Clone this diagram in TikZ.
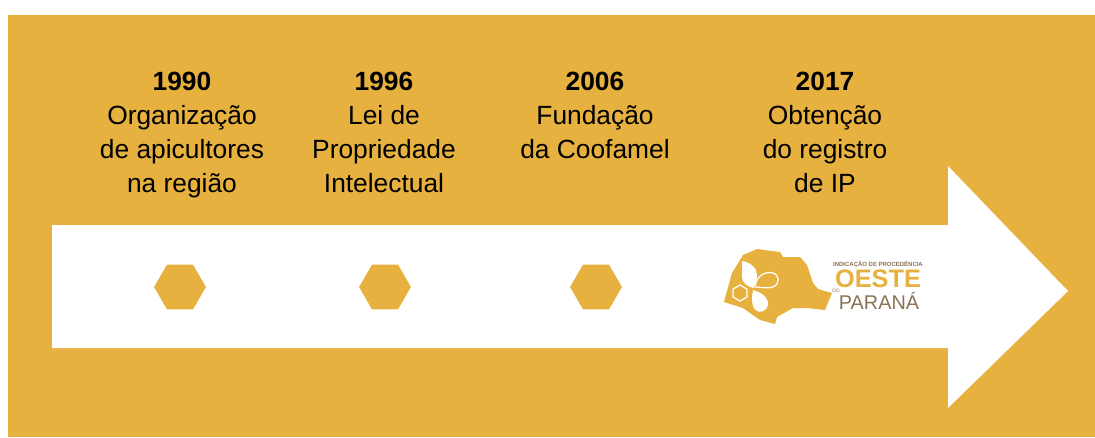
\documentclass[tikz,border=0pt]{standalone}
\usepackage{fontspec}
\setmainfont{Liberation Sans}
\usetikzlibrary{shapes.geometric}
\definecolor{mel}{HTML}{E6B13F}
\definecolor{brown-logo}{HTML}{8A7253}
\tikzset{
	marco/.style={font=\fontsize{15}{19.3}\selectfont,align=center,anchor=north,text=black,inner sep=0pt},
	favo/.style={regular polygon,regular polygon sides=6,fill=mel,minimum size=29.5pt,inner sep=0pt,yscale=1,xscale=1},
	logotxt/.style={inner sep=0pt,text=#1},
	logotxt/.default=mel
}

\begin{document}
\begin{tikzpicture}[x=.02cm,y=-.02cm]
	\useasboundingbox (0,0) rectangle (1095,437);
	\fill [white] (0,0) rectangle (1095,437);
	\fill [mel] (8,15) rectangle (1095,437);
	\fill [white] (52,225) -- (948,225) -- (948,166) -- (1068,291) -- (948,408) -- (948,348) -- (52,348) -- cycle;

	% marcos
	\foreach \x/\ano/\txt in {182/1990/{Organização\\de apicultores\\na região},384/1996/{Lei de\\Propriedade\\Intelectual},595/2006/{Fundação\\da Coofamel},825/2017/{Obtenção\\do registro\\de IP}}
		{\node [marco] (m\ano) at (\x,72) {\textbf{\ano}\\\txt};}

	\foreach \x/\ano in {180/1990,385/1996,596/2006}
		{\node [favo] (f\ano) at (\x,287) {};}

	% logo
	\fill [mel] (724,302) -- (732,273) -- (743,255) -- (757,249) -- (780,252) -- (783,257) -- (800,257) -- (807,265) -- (813,283) -- (818,289) -- (832,293) -- (825,310) -- (807,308) -- (793,308) -- (777,317) -- (775,324) -- (760,320) -- (743,308) -- (727,303) -- cycle;
	\fill [white] (742,261) .. controls (750,262) and (757,268) .. (757,275) .. controls (757,280) and (755,285) .. (753,288) .. controls (747,286) and (742,283) .. (742,277) -- cycle;
	\draw [white,line width=.7pt] (755,287) .. controls (756,276) and (765,271) .. (773,273) .. controls (780,275) and (780,284) .. (773,287) .. controls (767,289) and (761,287) .. (755,287) -- cycle;
	\fill [white] (753,290) .. controls (760,292) and (769,297) .. (768,305) .. controls (767,311) and (760,313) .. (757,311) .. controls (752,309) and (751,300) .. (753,290) -- cycle;
	\draw [white,line width=.7pt] (740,285) -- (747,289) -- (747,297) -- (740,301) -- (733,297) -- (733,289) -- cycle;
	\node [logotxt=brown-logo,font=\bfseries\fontsize{3.4}{4}\selectfont] (indicacao) at (878,264) {INDICAÇÃO DE PROCEDÊNCIA};
	\node [logotxt,font=\bfseries\fontsize{14.4}{16}\selectfont] (oeste) at (878,279) {OESTE};
	\node [logotxt=brown-logo,font=\fontsize{2.8}{3}\selectfont] (do) at (836,291) {DO};
	\node [logotxt=brown-logo,font=\fontsize{11.3}{13}\selectfont,anchor=base] (parana) at (879,309) {PARANÁ};
\end{tikzpicture}
\end{document}
